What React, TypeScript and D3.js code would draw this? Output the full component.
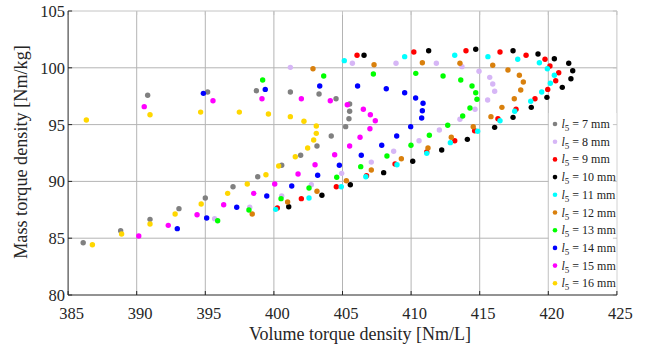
import React from "react";
import * as d3 from "d3";

const xTicks = [385, 390, 395, 400, 405, 410, 415, 420, 425];
const yTicks = [80, 85, 90, 95, 100, 105];

const seriesLabels = ["7", "8", "9", "10", "11", "12", "13", "14", "15", "16"];
const seriesColors = ["#808080", "#d6b6f6", "#ff0000", "#000000", "#00ffff", "#d9800d", "#00ff00", "#0000ff", "#ff00ff", "#ffd700"];

const x7 = [386.1, 388.83, 390.97, 393.08, 395.0, 397.02, 398.82, 400.57, 401.95, 403.14, 404.18, 405.23, 405.47, 405.52, 405.52, 404.53, 403.29, 401.2, 398.72, 395.17, 390.8];
const y7 = [84.6, 85.66, 86.66, 87.6, 88.54, 89.53, 90.41, 91.42, 92.3, 93.12, 94.0, 94.82, 95.52, 96.17, 96.81, 97.28, 97.69, 97.87, 97.98, 97.87, 97.58];

const x8 = [395.68, 398.24, 400.57, 402.73, 404.94, 407.1, 408.73, 410.58, 412.06, 413.56, 414.66, 415.58, 416.09, 415.95, 415.73, 414.95, 413.71, 411.84, 408.9, 405.72, 401.2];
const y8 = [86.72, 87.72, 88.72, 89.71, 90.71, 91.7, 92.65, 93.58, 94.52, 95.47, 96.35, 97.17, 97.93, 98.57, 99.16, 99.69, 100.1, 100.4, 100.4, 100.4, 100.04];

const x9 = [400.25, 402.0, 404.55, 406.75, 408.83, 411.14, 413.18, 414.63, 416.33, 417.65, 419.03, 419.96, 420.54, 420.76, 420.12, 419.76, 418.38, 416.48, 414.0, 410.2, 406.06];
const y9 = [87.66, 88.48, 89.53, 90.5, 91.53, 92.59, 93.58, 94.46, 95.52, 96.35, 97.28, 98.1, 98.86, 99.57, 100.16, 100.75, 101.1, 101.39, 101.5, 101.39, 101.1];

const x10 = [401.08, 403.5, 405.57, 408.0, 410.12, 412.23, 414.1, 416.09, 417.43, 418.76, 419.9, 421.02, 421.65, 421.78, 421.49, 420.44, 419.25, 417.43, 414.71, 411.28, 406.57];
const y10 = [87.77, 88.78, 89.71, 90.77, 91.77, 92.76, 93.7, 94.76, 95.64, 96.52, 97.4, 98.28, 99.04, 99.74, 100.4, 100.8, 101.21, 101.5, 101.63, 101.5, 101.1];

const x11 = [400.13, 402.56, 404.91, 406.7, 408.97, 411.14, 412.86, 414.85, 416.48, 417.55, 418.72, 419.52, 420.15, 420.44, 419.93, 419.35, 417.77, 415.6, 413.18, 409.53, 405.13];
const y11 = [87.54, 88.54, 89.53, 90.41, 91.47, 92.47, 93.41, 94.41, 95.34, 96.17, 97.05, 97.87, 98.64, 99.34, 99.92, 100.45, 100.75, 100.98, 101.1, 100.98, 100.63];

const x12 = [398.42, 401.0, 403.14, 405.28, 407.1, 409.29, 411.23, 412.93, 414.53, 415.82, 416.62, 417.52, 417.99, 418.18, 417.89, 417.06, 415.95, 413.56, 410.82, 407.3, 402.85];
const y12 = [87.13, 88.19, 89.13, 90.06, 91.0, 92.0, 92.94, 93.88, 94.82, 95.7, 96.52, 97.28, 98.05, 98.75, 99.34, 99.81, 100.22, 100.4, 100.45, 100.27, 99.92];

const x13 = [395.9, 398.18, 400.52, 402.56, 404.58, 406.33, 408.24, 409.99, 411.33, 412.67, 413.76, 414.29, 414.8, 414.71, 414.44, 413.62, 412.33, 410.34, 407.25, 403.63, 399.18];
const y13 = [86.54, 87.48, 88.48, 89.42, 90.36, 91.3, 92.24, 93.18, 94.06, 94.94, 95.76, 96.46, 97.23, 97.81, 98.4, 98.93, 99.28, 99.51, 99.45, 99.28, 98.93];

const x14 = [392.96, 395.1, 397.29, 399.48, 401.3, 403.19, 404.77, 406.37, 407.86, 408.95, 409.97, 410.77, 410.82, 410.87, 410.33, 409.53, 408.19, 406.1, 403.34, 399.37, 394.86];
const y14 = [85.84, 86.78, 87.72, 88.72, 89.6, 90.54, 91.42, 92.3, 93.18, 94.0, 94.82, 95.58, 96.22, 96.88, 97.34, 97.81, 98.16, 98.4, 98.4, 98.1, 97.75];

const x15 = [390.15, 392.3, 394.4, 396.34, 398.53, 400.06, 401.76, 403.0, 404.43, 405.52, 406.28, 407.0, 407.39, 407.03, 406.52, 405.35, 404.11, 402.0, 399.13, 395.56, 390.55];
const y15 = [85.19, 86.13, 87.07, 87.95, 88.95, 89.77, 90.65, 91.47, 92.35, 93.12, 93.88, 94.64, 95.34, 95.87, 96.35, 96.75, 97.1, 97.28, 97.28, 97.1, 96.58];

const x16 = [386.77, 388.9, 390.97, 392.8, 394.7, 396.63, 398.06, 399.42, 400.35, 401.56, 402.46, 402.9, 403.09, 403.09, 402.19, 401.2, 399.6, 397.48, 394.66, 390.97, 386.33];
const y16 = [84.43, 85.37, 86.25, 87.13, 88.01, 88.95, 89.77, 90.59, 91.36, 92.17, 92.94, 93.64, 94.23, 94.88, 95.29, 95.7, 95.93, 96.1, 96.1, 95.87, 95.4];

const seriesX = [x7, x8, x9, x10, x11, x12, x13, x14, x15, x16];
const seriesY = [y7, y8, y9, y10, y11, y12, y13, y14, y15, y16];

const W = 660;
const H = 347;
const L = 68.1, R = 616.9, T = 11, B = 295;
const FONT = '"Liberation Serif", "DejaVu Serif", "Times New Roman", serif';

export default function App() {
  const x = d3.scaleLinear().domain([385, 425]).range([L, R]);
  const y = d3.scaleLinear().domain([80, 105]).range([B, T]);
  const gridColor = "#b4b4b4";
  const legendTop = 113;
  const legendStep = 17.7;
  const ts = { fontFamily: FONT };

  return (
    <svg width={W} height={H} style={{ position: "absolute", left: 0, top: 0, background: "#fff" }}>
      <rect x={0} y={0} width={W} height={H} fill="#fff" />
      {xTicks.slice(1, -1).map((t) => (
        <line key={"gx" + t} x1={x(t)} x2={x(t)} y1={T} y2={B} stroke={gridColor} strokeWidth={1} />
      ))}
      {yTicks.slice(1, -1).map((t) => (
        <line key={"gy" + t} x1={L} x2={R} y1={y(t)} y2={y(t)} stroke={gridColor} strokeWidth={1} />
      ))}
      <line x1={L} x2={R} y1={T} y2={T} stroke="#c4c4c4" strokeWidth={1} />
      <line x1={R} x2={R} y1={T} y2={B} stroke="#c4c4c4" strokeWidth={1} />
      {seriesX.map((xs, si) =>
        xs.map((xv, i) => (
          <circle key={si + "-" + i} cx={x(xv)} cy={y(seriesY[si][i])} r={2.7} fill={seriesColors[si]} />
        ))
      )}
      <rect x={x(420) + 0.5} y={legendTop} width={R - x(420) - 1} height={B - legendTop - 0.5} fill="#fff" />
      {seriesLabels.map((lab, i) => {
        const cy = legendTop + 11 + i * legendStep;
        return (
          <g key={"lg" + lab}>
            <circle cx={555} cy={cy} r={2.3} fill={seriesColors[i]} />
            <text x={561.5} y={cy + 4} fontSize={12} fill="#222" style={ts}>
              <tspan fontStyle="italic">l</tspan>
              <tspan fontSize={9} dy={3}>5</tspan>
              <tspan dy={-3}>{" = " + lab + " mm"}</tspan>
            </text>
          </g>
        );
      })}
      {yTicks.map((t) => (
        <line key={"rt" + t} x1={R - 4} x2={R} y1={y(t)} y2={y(t)} stroke="#c4c4c4" />
      ))}
      {xTicks.map((t) => (
        <line key={"tt" + t} x1={x(t)} x2={x(t)} y1={T} y2={T + 4} stroke="#c4c4c4" />
      ))}
      <line x1={L} x2={L} y1={T} y2={B} stroke="#262626" strokeWidth={1} />
      <line x1={L} x2={R} y1={B} y2={B} stroke="#262626" strokeWidth={1} />
      {yTicks.map((t) => (
        <g key={"yt" + t}>
          <line x1={L} x2={L + 4} y1={y(t)} y2={y(t)} stroke="#262626" />
          <text x={L - 3} y={y(t) + 6} textAnchor="end" fontSize={16.5} fill="#262626" style={ts}>{t}</text>
        </g>
      ))}
      {xTicks.map((t) => (
        <g key={"xt" + t}>
          <line x1={x(t)} x2={x(t)} y1={B} y2={B - 4} stroke="#262626" />
          <text x={x(t) + 3.5} y={318.5} textAnchor="middle" fontSize={16.5} fill="#262626" style={ts}>{t}</text>
        </g>
      ))}
      <text x={360} y={340} textAnchor="middle" fontSize={18} fill="#262626" style={ts}>Volume torque density [Nm/L]</text>
      <text transform={`translate(27,152) rotate(-90)`} textAnchor="middle" fontSize={18.2} fill="#262626" style={ts}>Mass torque density [Nm/kg]</text>
    </svg>
  );
}
